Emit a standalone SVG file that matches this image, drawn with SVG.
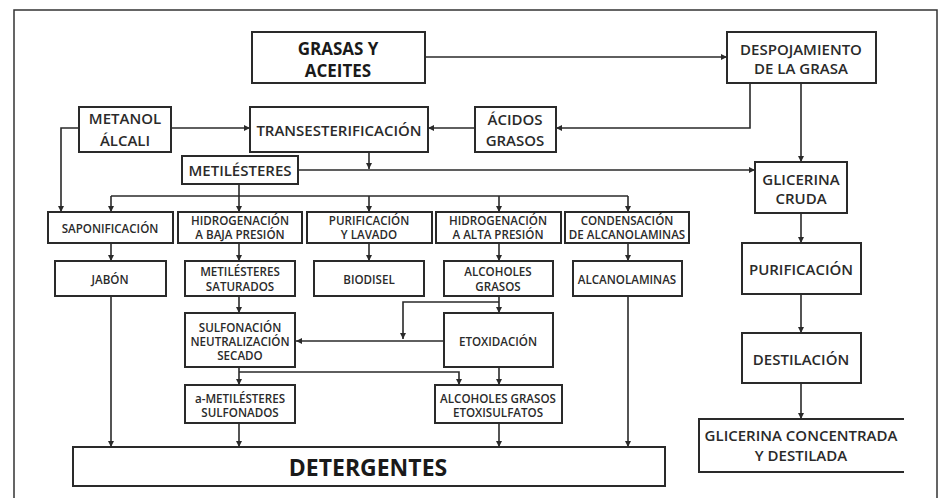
<svg xmlns="http://www.w3.org/2000/svg" width="940" height="498" viewBox="0 0 940 498">
<style>
.box{fill:#fff;stroke:#2a2a2a;stroke-width:2}
.t{font-family:"Open Sans","Liberation Sans",sans-serif;font-weight:600;fill:#2a2a2a;text-anchor:middle;dominant-baseline:central}
.m{font-size:15px}
.s{font-size:11.6px}
.b{font-weight:700;fill:#1a1a1a}
.c{fill:none;stroke:#2a2a2a;stroke-width:1.6}
.a{marker-end:url(#ah)}
</style>
<defs>
<marker id="ah" markerUnits="userSpaceOnUse" markerWidth="7" markerHeight="7" refX="6" refY="3" orient="auto">
<path d="M0,0 L6,3 L0,6 z" fill="#2a2a2a"/>
</marker>
</defs>
<rect width="940" height="498" fill="#fff"/>
<path d="M14,498 V10 H937 V498" fill="none" stroke="#333" stroke-width="1.5"/>

<g id="connectors">
<path class="c a" d="M425,57 H727"/>
<path class="c a" d="M750,83 V128 H556"/>
<path class="c a" d="M801,83 V162"/>
<path class="c a" d="M475,128 H428"/>
<path class="c a" d="M171,128 H250"/>
<path class="c a" d="M79,128 H61 V212"/>
<path class="c a" d="M369,152 V169"/>
<path class="c a" d="M298,170 H755"/>
<path class="c a" d="M239,184 V212"/>
<path class="c" d="M111,196 H628"/>
<path class="c a" d="M111,196 V212"/>
<path class="c a" d="M369,196 V212"/>
<path class="c a" d="M499,196 V212"/>
<path class="c a" d="M628,196 V212"/>
<path class="c a" d="M111,243 V261"/>
<path class="c a" d="M239,243 V261"/>
<path class="c a" d="M369,243 V261"/>
<path class="c a" d="M499,243 V261"/>
<path class="c a" d="M628,243 V261"/>
<path class="c a" d="M239,296 V313"/>
<path class="c a" d="M499,296 V313"/>
<path class="c a" d="M499,302 H403 V339"/>
<path class="c a" d="M444,341 H296"/>
<path class="c a" d="M239,367 V385"/>
<path class="c a" d="M239,372 H459 V385"/>
<path class="c a" d="M499,367 V385"/>
<path class="c a" d="M111,296 V447"/>
<path class="c a" d="M239,423 V447"/>
<path class="c a" d="M499,423 V447"/>
<path class="c a" d="M628,296 V447"/>
<path class="c a" d="M801,213 V243"/>
<path class="c a" d="M801,294 V333"/>
<path class="c a" d="M801,383 V419"/>
</g>

<g id="grasas">
<rect class="box" x="252" y="32" width="173" height="51"/>
<text class="t b" x="338" y="48" font-size="17">GRASAS Y</text>
<text class="t b" x="338" y="70" font-size="17">ACEITES</text>
</g>
<g id="despojamiento">
<rect class="box" x="727" y="32" width="149" height="51"/>
<text class="t m" x="801" y="49">DESPOJAMIENTO</text>
<text class="t m" x="801" y="68">DE LA GRASA</text>
</g>
<g id="metanol">
<rect class="box" x="79" y="107" width="92" height="45"/>
<text class="t m" x="125" y="118">METANOL</text>
<text class="t m" x="125" y="140">ÁLCALI</text>
</g>
<g id="transesterificacion">
<rect class="box" x="250" y="107" width="178" height="45"/>
<text class="t m" x="339" y="130">TRANSESTERIFICACIÓN</text>
</g>
<g id="acidos">
<rect class="box" x="475" y="107" width="81" height="45"/>
<text class="t m" x="515" y="119">ÁCIDOS</text>
<text class="t m" x="515" y="140">GRASOS</text>
</g>
<g id="metilesteres">
<rect class="box" x="182" y="156" width="116" height="28"/>
<text class="t m" x="240" y="170">METILÉSTERES</text>
</g>
<g id="glicerina-cruda">
<rect class="box" x="755" y="162" width="92" height="51"/>
<text class="t m" x="801" y="179">GLICERINA</text>
<text class="t m" x="801" y="198">CRUDA</text>
</g>

<g id="saponificacion">
<rect class="box" x="48" y="212" width="125" height="31"/>
<text class="t s" x="110" y="228">SAPONIFICACIÓN</text>
</g>
<g id="hidro-baja">
<rect class="box" x="178" y="212" width="124" height="31"/>
<text class="t s" x="240" y="220">HIDROGENACIÓN</text>
<text class="t s" x="240" y="234">A BAJA PRESIÓN</text>
</g>
<g id="purificacion-lavado">
<rect class="box" x="307" y="212" width="125" height="31"/>
<text class="t s" x="369" y="220">PURIFICACIÓN</text>
<text class="t s" x="369" y="234">Y LAVADO</text>
</g>
<g id="hidro-alta">
<rect class="box" x="436" y="212" width="125" height="31"/>
<text class="t s" x="498" y="220">HIDROGENACIÓN</text>
<text class="t s" x="498" y="234">A ALTA PRESIÓN</text>
</g>
<g id="condensacion">
<rect class="box" x="565" y="212" width="124" height="31"/>
<text class="t s" x="627" y="220">CONDENSACIÓN</text>
<text class="t s" x="627" y="234">DE ALCANOLAMINAS</text>
</g>

<g id="jabon">
<rect class="box" x="55" y="261" width="111" height="35"/>
<text class="t s" x="110" y="279">JABÓN</text>
</g>
<g id="metilesteres-saturados">
<rect class="box" x="185" y="261" width="110" height="35"/>
<text class="t s" x="240" y="271.5">METILÉSTERES</text>
<text class="t s" x="240" y="286">SATURADOS</text>
</g>
<g id="biodisel">
<rect class="box" x="314" y="261" width="110" height="35"/>
<text class="t s" x="369" y="279">BIODISEL</text>
</g>
<g id="alcoholes-grasos">
<rect class="box" x="444" y="261" width="109" height="35"/>
<text class="t s" x="498" y="271.5">ALCOHOLES</text>
<text class="t s" x="498" y="286">GRASOS</text>
</g>
<g id="alcanolaminas">
<rect class="box" x="573" y="261" width="109" height="35"/>
<text class="t s" x="627" y="279">ALCANOLAMINAS</text>
</g>
<g id="purificacion">
<rect class="box" x="742" y="243" width="119" height="51"/>
<text class="t m" x="801" y="269" font-size="16">PURIFICACIÓN</text>
</g>

<g id="sulfonacion">
<rect class="box" x="185" y="313" width="110" height="54"/>
<text class="t s" x="240" y="327">SULFONACIÓN</text>
<text class="t s" x="240" y="341">NEUTRALIZACIÓN</text>
<text class="t s" x="240" y="355">SECADO</text>
</g>
<g id="etoxidacion">
<rect class="box" x="444" y="313" width="109" height="54"/>
<text class="t s" x="498" y="341">ETOXIDACIÓN</text>
</g>
<g id="destilacion">
<rect class="box" x="742" y="333" width="119" height="50"/>
<text class="t m" x="801" y="359" font-size="16">DESTILACIÓN</text>
</g>

<g id="a-metilesteres">
<rect class="box" x="185" y="385" width="110" height="38"/>
<text class="t s" x="240" y="398">a-METILÉSTERES</text>
<text class="t s" x="240" y="412">SULFONADOS</text>
</g>
<g id="etoxisulfatos">
<rect class="box" x="435" y="385" width="127" height="38"/>
<text class="t s" x="498" y="398">ALCOHOLES GRASOS</text>
<text class="t s" x="498" y="412">ETOXISULFATOS</text>
</g>
<g id="glicerina-concentrada">
<path d="M904,419 H699 V472 H904" fill="#fff" stroke="#2a2a2a" stroke-width="2"/>
<text class="t m" x="801" y="435" font-size="16">GLICERINA CONCENTRADA</text>
<text class="t m" x="801" y="455" font-size="16">Y DESTILADA</text>
</g>

<g id="detergentes">
<rect class="box" x="73" y="447" width="592" height="39"/>
<text class="t b" x="368" y="467" font-size="23">DETERGENTES</text>
</g>
</svg>
